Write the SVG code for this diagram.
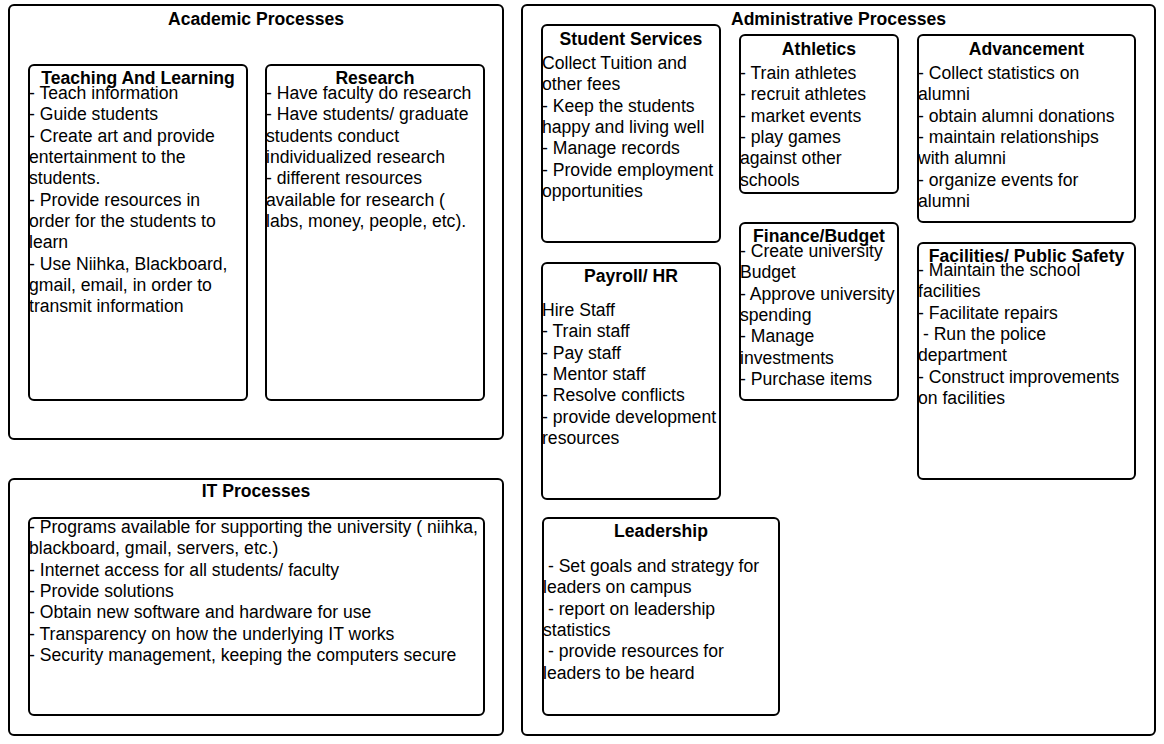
<svg xmlns="http://www.w3.org/2000/svg" width="1164" height="744" viewBox="0 0 1164 744">
<style>
rect.box{fill:#fff;stroke:#000;stroke-width:2}
text{font-family:"Liberation Sans",Arial,sans-serif;font-size:17.6px;fill:#000;white-space:pre}
text.t{font-weight:bold;text-anchor:middle}
</style>
<rect width="1164" height="744" fill="#fff"/>
<g id="academic">
<rect class="box" x="9" y="5" width="494" height="434" rx="5"/>
<text class="t" x="256" y="25">Academic Processes</text>
</g>
<g id="teaching">
<rect class="box" x="29" y="65" width="218" height="335" rx="5"/>
<text class="t" x="138" y="84">Teaching And Learning</text>
<text x="29" y="99">- Teach information</text>
<text x="29" y="120.3">- Guide students</text>
<text x="29" y="141.7">- Create art and provide</text>
<text x="29" y="163">entertainment to the</text>
<text x="29" y="184.3">students.</text>
<text x="29" y="205.7">- Provide resources in</text>
<text x="29" y="227">order for the students to</text>
<text x="29" y="248.3">learn</text>
<text x="29" y="269.7">- Use Niihka, Blackboard,</text>
<text x="29" y="291">gmail, email, in order to</text>
<text x="29" y="312.3">transmit information</text>
</g>
<g id="research">
<rect class="box" x="266" y="65" width="218" height="335" rx="5"/>
<text class="t" x="375" y="84">Research</text>
<text x="266" y="99">- Have faculty do research</text>
<text x="266" y="120.3">- Have students/ graduate</text>
<text x="266" y="141.7">students conduct</text>
<text x="266" y="163">individualized research</text>
<text x="266" y="184.3">- different resources</text>
<text x="266" y="205.7">available for research (</text>
<text x="266" y="227">labs, money, people, etc).</text>
</g>
<g id="it">
<rect class="box" x="9" y="479" width="494" height="256" rx="5"/>
<text class="t" x="256" y="497">IT Processes</text>
</g>
<g id="it-list">
<rect class="box" x="29" y="518" width="455" height="197" rx="5"/>
<text x="29" y="533">- Programs available for supporting the university ( niihka,</text>
<text x="29" y="554.3">blackboard, gmail, servers, etc.)</text>
<text x="29" y="575.7">- Internet access for all students/ faculty</text>
<text x="29" y="597">- Provide solutions</text>
<text x="29" y="618.3">- Obtain new software and hardware for use</text>
<text x="29" y="639.7">- Transparency on how the underlying IT works</text>
<text x="29" y="661">- Security management, keeping the computers secure</text>
</g>
<g id="administrative">
<rect class="box" x="522" y="5" width="633" height="730" rx="5"/>
<text class="t" x="838.5" y="25">Administrative Processes</text>
</g>
<g id="student-services">
<rect class="box" x="542" y="25" width="178" height="217" rx="5"/>
<text class="t" x="631" y="45">Student Services</text>
<text x="542" y="69">Collect Tuition and</text>
<text x="542" y="90.3">other fees</text>
<text x="542" y="111.7">- Keep the students</text>
<text x="542" y="133">happy and living well</text>
<text x="542" y="154.3">- Manage records</text>
<text x="542" y="175.7">- Provide employment</text>
<text x="542" y="197">opportunities</text>
</g>
<g id="athletics">
<rect class="box" x="740" y="35" width="158" height="158" rx="5"/>
<text class="t" x="819" y="55">Athletics</text>
<text x="740" y="79">- Train athletes</text>
<text x="740" y="100.3">- recruit athletes</text>
<text x="740" y="121.7">- market events</text>
<text x="740" y="143">- play games</text>
<text x="740" y="164.3">against other</text>
<text x="740" y="185.7">schools</text>
</g>
<g id="advancement">
<rect class="box" x="918" y="35" width="217" height="187" rx="5"/>
<text class="t" x="1026.5" y="55">Advancement</text>
<text x="918" y="79">- Collect statistics on</text>
<text x="918" y="100.3">alumni</text>
<text x="918" y="121.7">- obtain alumni donations</text>
<text x="918" y="143">- maintain relationships</text>
<text x="918" y="164.3">with alumni</text>
<text x="918" y="185.7">- organize events for</text>
<text x="918" y="207">alumni</text>
</g>
<g id="finance">
<rect class="box" x="740" y="223" width="158" height="177" rx="5"/>
<text class="t" x="819" y="242">Finance/Budget</text>
<text x="740" y="257">- Create university</text>
<text x="740" y="278.3">Budget</text>
<text x="740" y="299.7">- Approve university</text>
<text x="740" y="321">spending</text>
<text x="740" y="342.3">- Manage</text>
<text x="740" y="363.7">investments</text>
<text x="740" y="385">- Purchase items</text>
</g>
<g id="facilities">
<rect class="box" x="918" y="243" width="217" height="236" rx="5"/>
<text class="t" x="1026.5" y="262">Facilities/ Public Safety</text>
<text x="918" y="276">- Maintain the school</text>
<text x="918" y="297.3">facilities</text>
<text x="918" y="318.7">- Facilitate repairs</text>
<text x="918" y="340"> - Run the police</text>
<text x="918" y="361.3">department</text>
<text x="918" y="382.7">- Construct improvements</text>
<text x="918" y="404">on facilities</text>
</g>
<g id="payroll">
<rect class="box" x="542" y="263" width="178" height="236" rx="5"/>
<text class="t" x="631" y="282">Payroll/ HR</text>
<text x="542" y="316">Hire Staff</text>
<text x="542" y="337.3">- Train staff</text>
<text x="542" y="358.7">- Pay staff</text>
<text x="542" y="380">- Mentor staff</text>
<text x="542" y="401.3">- Resolve conflicts</text>
<text x="542" y="422.7">- provide development</text>
<text x="542" y="444">resources</text>
</g>
<g id="leadership">
<rect class="box" x="543" y="518" width="236" height="197" rx="5"/>
<text class="t" x="661" y="537">Leadership</text>
<text x="543" y="572"> - Set goals and strategy for</text>
<text x="543" y="593.3">leaders on campus</text>
<text x="543" y="614.7"> - report on leadership</text>
<text x="543" y="636">statistics</text>
<text x="543" y="657.3"> - provide resources for</text>
<text x="543" y="678.7">leaders to be heard</text>
</g>
<g id="connectors"></g>
</svg>
